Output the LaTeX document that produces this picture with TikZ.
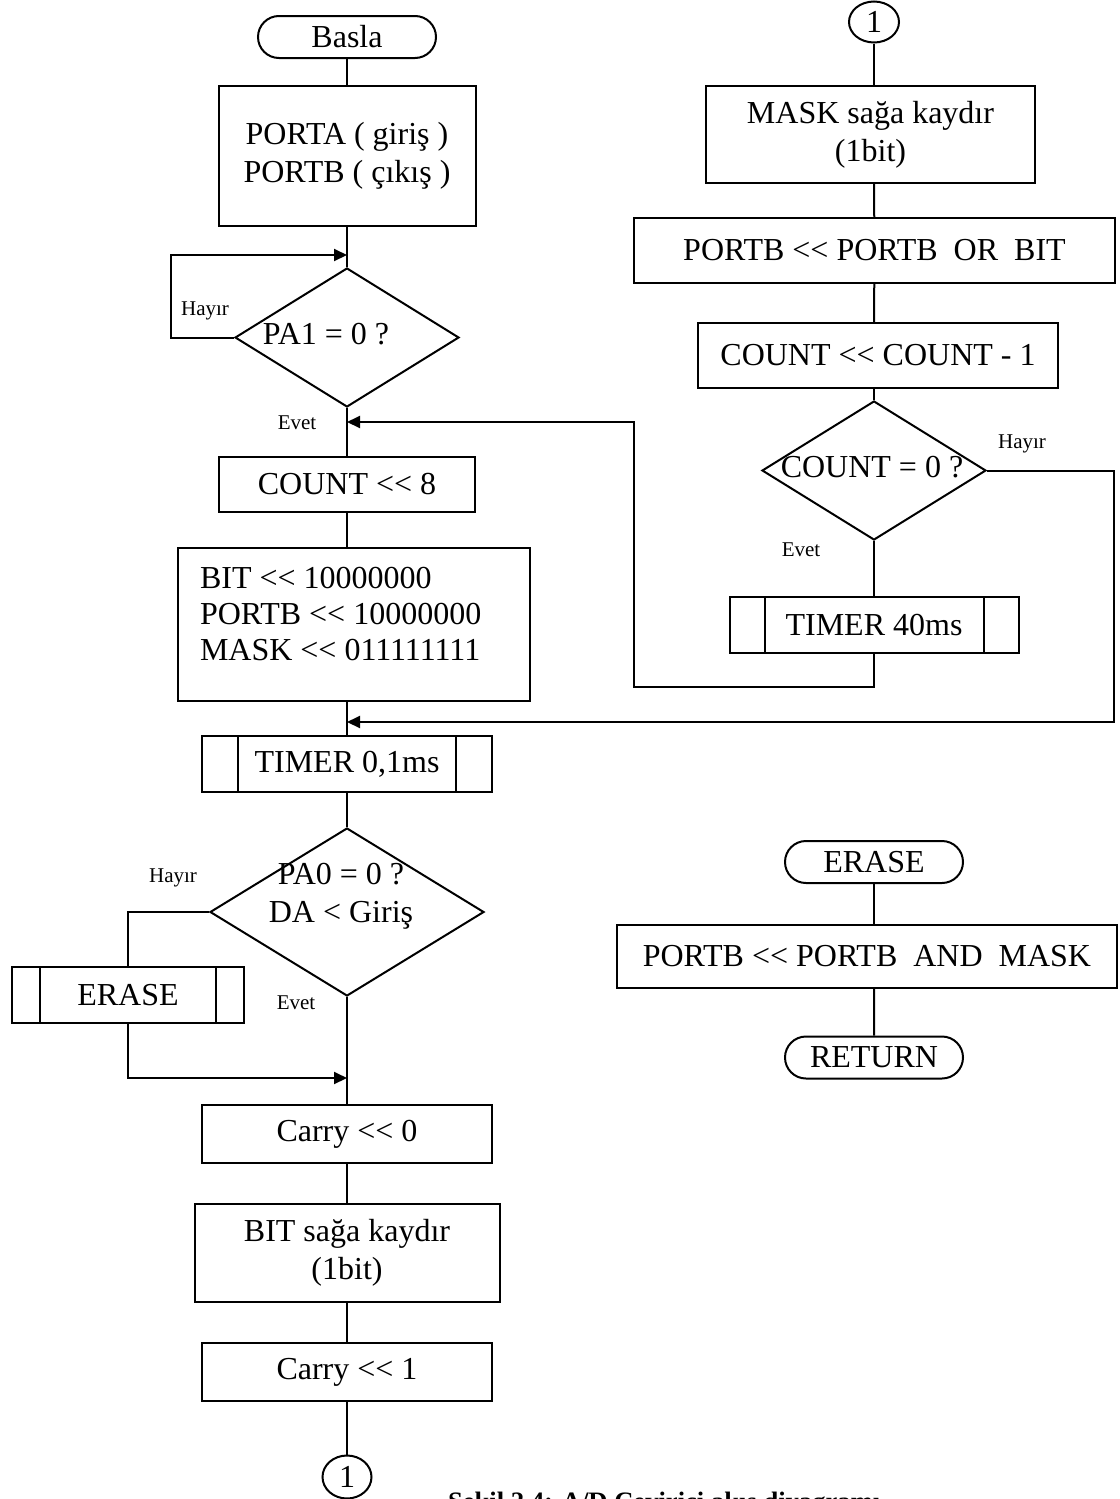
\documentclass[tikz,border=0pt]{standalone}
\usepackage{fontspec}
\setmainfont{Liberation Serif}
\usetikzlibrary{arrows.meta,shapes.geometric,shapes.misc}
\newcommand{\shl}{<\kern0pt<}

\begin{document}
\begin{tikzpicture}[x=0.5pt, y=-0.5pt, line width=1pt,
    >={Triangle[length=6.5pt,width=6pt]},
    font=\fontsize{16}{19}\selectfont,
    box/.style={draw, rectangle, inner sep=0, align=center},
    terminal/.style={draw, rounded rectangle, inner sep=0, minimum width=89pt, minimum height=21pt},
    decision/.style={draw, diamond, inner sep=0},
    subproc/.style={draw, rectangle, inner sep=0, minimum width=145pt, minimum height=28pt,
      path picture={\draw[line width=1pt]
        ([xshift=#1]path picture bounding box.north west) -- ([xshift=#1]path picture bounding box.south west)
        ([xshift=-#1]path picture bounding box.north east) -- ([xshift=-#1]path picture bounding box.south east);}},
    subproc/.default=18pt,
    conn/.style={draw, ellipse, inner sep=0, minimum width=25pt, minimum height=20.5pt},
    lbl/.style={inner sep=0, font=\fontsize{10.5}{12}\selectfont}]

   \useasboundingbox (0,0) rectangle (1119,1499);

   %main column
   \node[terminal] (start) at (347,37) {Basla};
   \node[box, minimum width=128.5pt, minimum height=70pt] (ports) at (347,156) {PORTA ( giriş )\\PORTB ( çıkış )};
   \node[decision, minimum width=112pt, minimum height=69.5pt] (pa1) at (347,337.5) {};
   \node[inner sep=0] (pa1t) at (326,334) {PA1 = 0 ?};
   \node[box, minimum width=128pt, minimum height=27.5pt] (cnt) at (347,484.5) {COUNT \shl{} 8};
   \node[box, minimum width=176pt, minimum height=76.5pt] (init) at (354,624.5) {};
   \node[anchor=west, align=left, inner sep=0, font=\fontsize{16}{18}\selectfont] (initt) at (199,614)
        {BIT \shl{} 10000000\\PORTB \shl{} 10000000\\MASK \shl{} 011111111};
   \node[subproc] (tmra) at (347,764) {TIMER 0,1ms};
   \node[decision, minimum width=137pt, minimum height=84pt] (pa0) at (347,912) {};
   \node[inner sep=0, align=center] (pa0t) at (341,896) {PA0 = 0 ?\\DA < Giriş};
   \node[subproc=14pt, minimum width=116pt] (erase) at (128,995) {ERASE};
   \node[box, minimum width=145pt, minimum height=29pt] (carry0) at (347,1134) {Carry \shl{} 0};
   \node[box, minimum width=152.5pt, minimum height=49pt] (bit) at (347,1253) {BIT sağa kaydır\\(1bit)};
   \node[box, minimum width=145pt, minimum height=29pt] (carry1) at (347,1372) {Carry \shl{} 1};
   \node[conn, minimum width=24.5pt, minimum height=21.5pt] (conA) at (347,1477) {1};

   %right column
   \node[conn] (conB) at (874,22) {1};
   \node[box, minimum width=164.5pt, minimum height=48.5pt] (mask) at (870.5,134.5) {MASK sağa kaydır\\(1bit)};
   \node[box, minimum width=240.5pt, minimum height=32.5pt] (orbit) at (874.5,250.5) {PORTB \shl{} PORTB\ \ OR\ \ BIT};
   \node[box, minimum width=180pt, minimum height=32.5pt] (dec) at (878,355.5) {COUNT \shl{} COUNT - 1};
   \node[decision, minimum width=112pt, minimum height=69.5pt] (cnt0) at (874,470.5) {};
   \node[inner sep=0] (cnt0t) at (872,467) {COUNT = 0 ?};
   \node[subproc=17.5pt, minimum width=144.5pt] (tmrb) at (874,625) {TIMER 40ms};

   %erase routine
   \node[terminal] (erStart) at (874,862) {ERASE};
   \node[box, minimum width=250pt, minimum height=31.5pt] (andm) at (867,956.5) {PORTB \shl{} PORTB\ \ AND\ \ MASK};
   \node[terminal] (ret) at (874,1057.5) {RETURN};

   %labels
   \node[lbl] (no1) at (205,311) {Hayır};
   \node[lbl] (yes1) at (297,423) {Evet};
   \node[lbl] (no2) at (173,878) {Hayır};
   \node[lbl] (yes2) at (296,1003) {Evet};
   \node[lbl] (no3) at (1022,444) {Hayır};
   \node[lbl] (yes3) at (801,550) {Evet};

   \node[anchor=base west, inner sep=0, font=\bfseries\fontsize{13.3}{16}\selectfont] (cap) at (447,1510)
        {Şekil 2.4: A/D Çevirici akış diyagramı};

   \coordinate (j1) at (347,255);
   \coordinate (l1) at (171,255);
   \coordinate (j2) at (347,422);
   \coordinate (r1) at (634,687);
   \coordinate (j3) at (347,722);
   \coordinate (r2) at (1114,722);
   \coordinate (j4) at (347,1078);

  \path[draw]
    (start) edge (ports)
    (ports) edge (pa1)
    (pa1) edge (cnt)
    (cnt) edge (cnt |- init.north)
    (cnt |- init.south) edge (tmra)
    (tmra) edge (pa0)
    (pa0) edge (carry0)
    (carry0) edge (bit)
    (bit) edge (carry1)
    (carry1) edge (conA)

    %right column
    (conB) edge (conB |- mask.north)
    (conB |- mask.south) edge (orbit)
    (orbit) edge (conB |- dec.north)
    (conB |- dec.south) edge (cnt0)
    (cnt0) edge (tmrb)

    %erase routine
    (erStart) edge (erStart |- andm.north)
    (erStart |- andm.south) edge (ret);

  %loops
  \draw[->] (pa1.west) -| (l1) -- (j1);
  \draw[->] (tmrb.south) |- (r1) |- (j2);
  \draw[->] (cnt0.east) -| (r2) -- (j3);
  \draw (pa0.west) -| (erase.north);
  \draw[->] (erase.south) |- (j4);
\end{tikzpicture}
\end{document}
